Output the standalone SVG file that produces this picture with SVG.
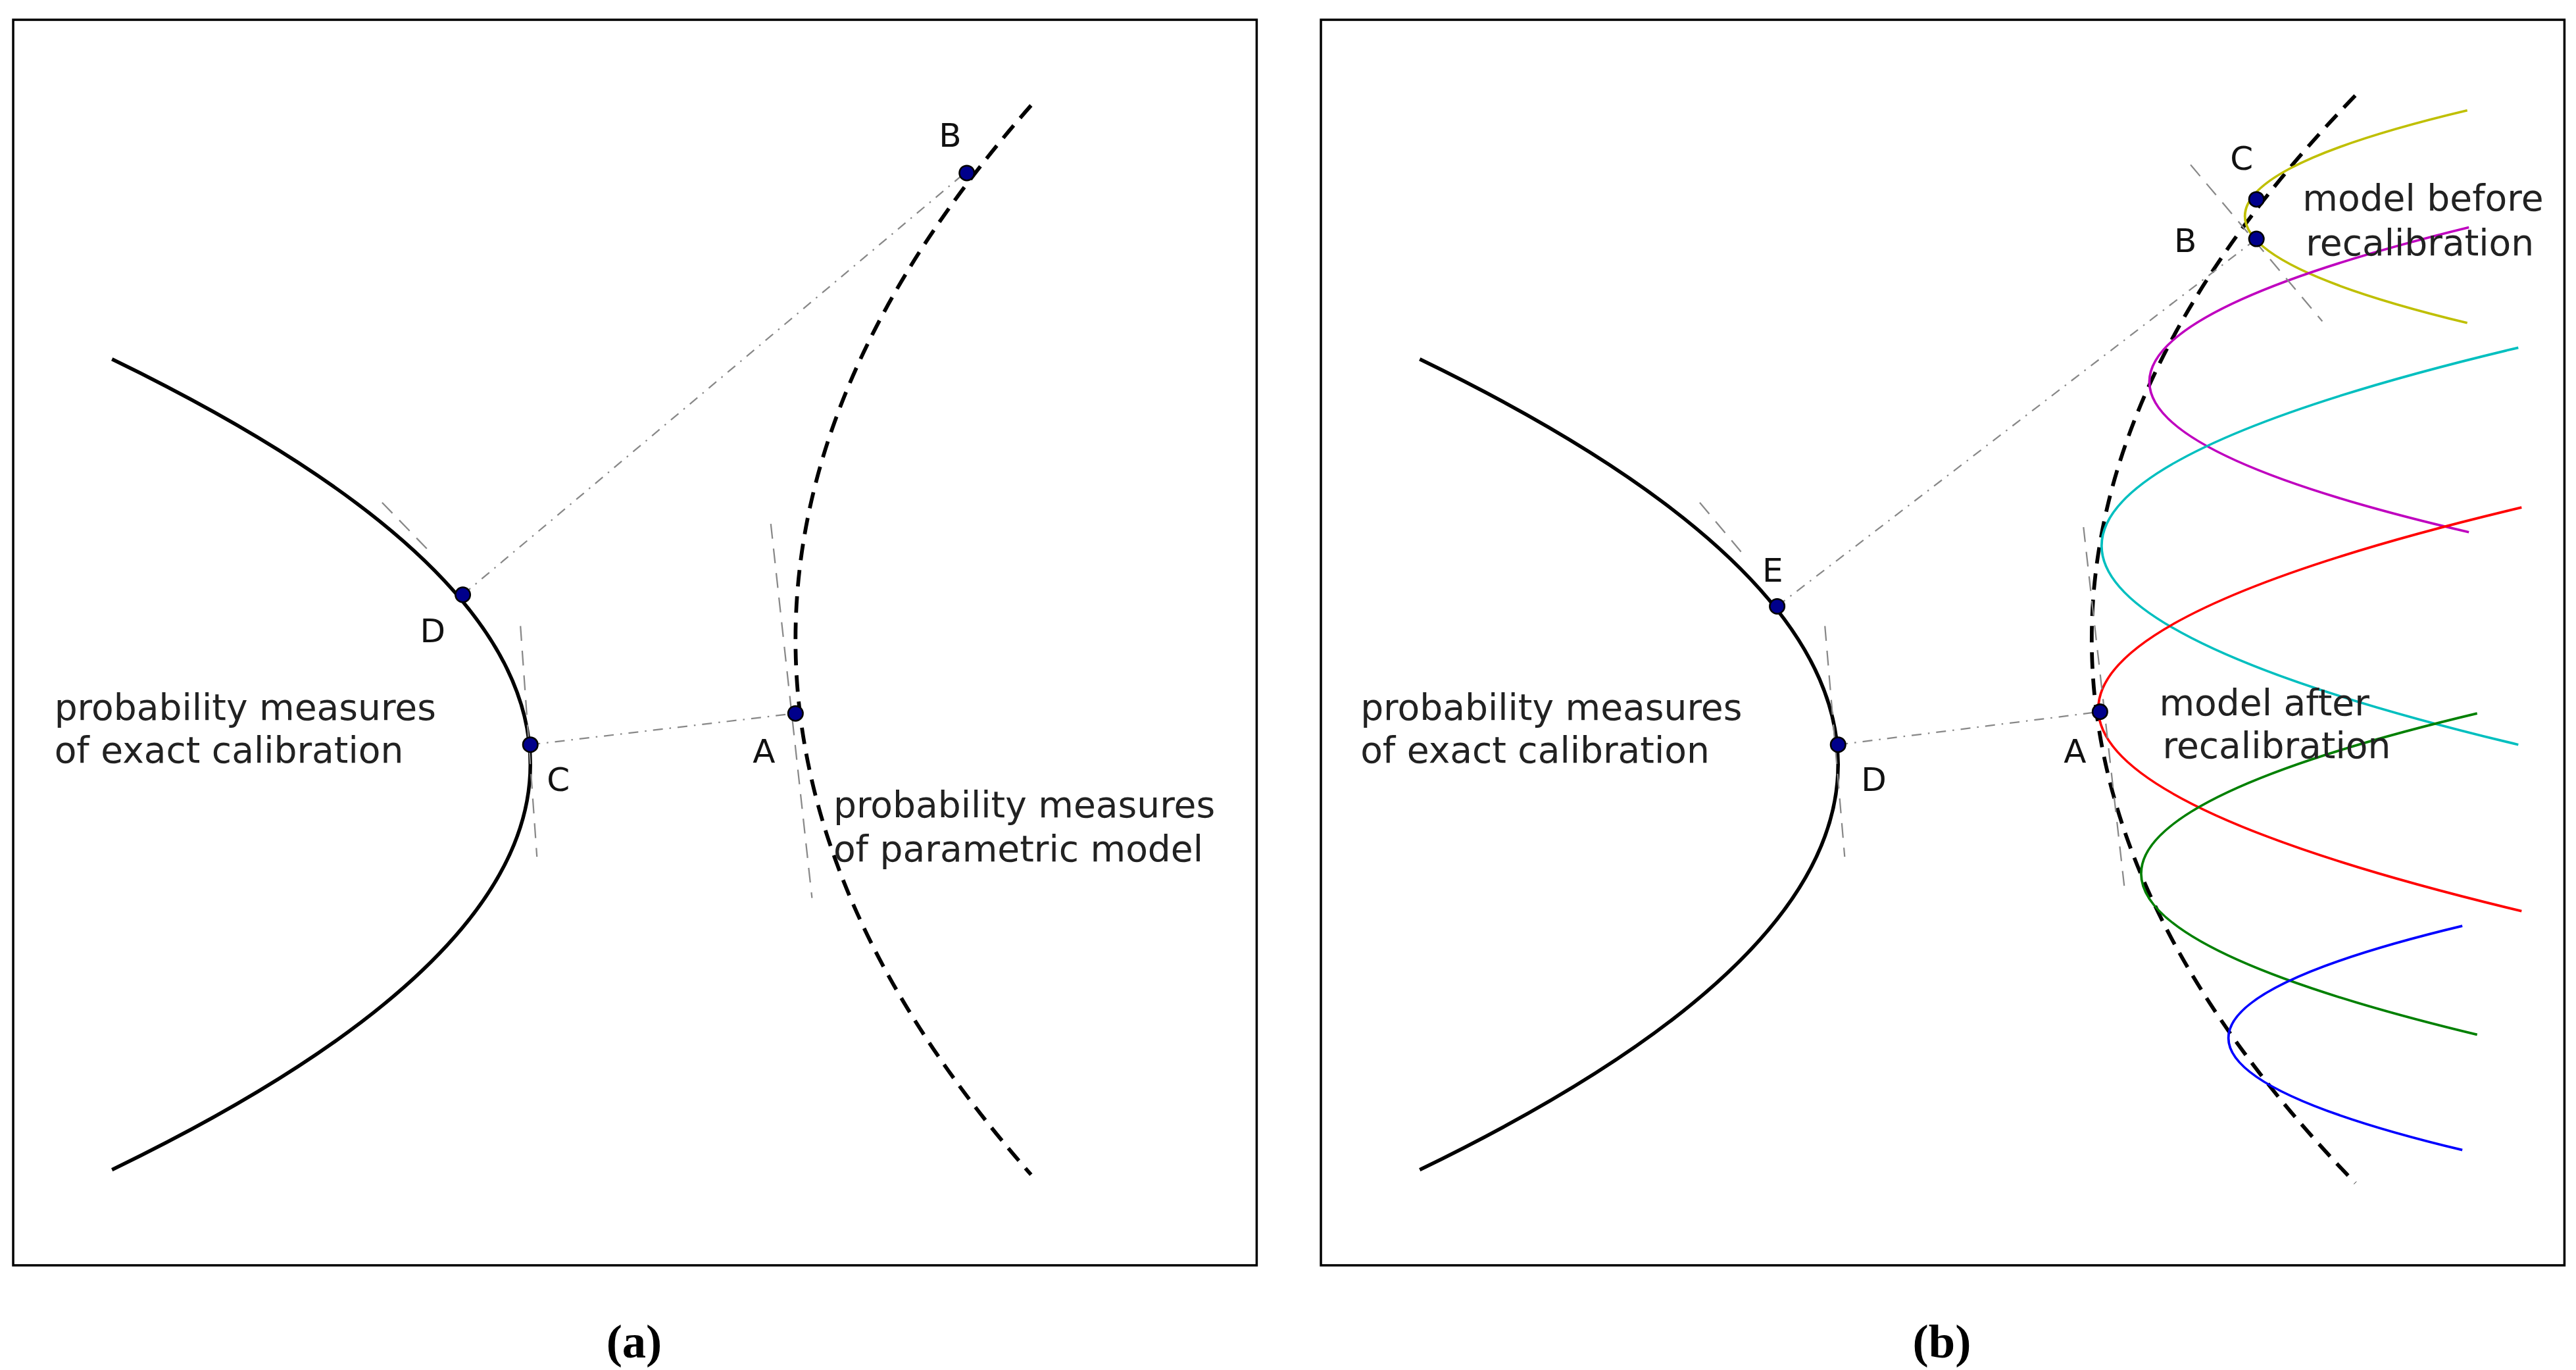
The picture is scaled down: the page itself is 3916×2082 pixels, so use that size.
<svg xmlns="http://www.w3.org/2000/svg" width="3916" height="2082" viewBox="0 0 3916 2082">
<style>
.frame{fill:none;stroke:#000;stroke-width:1.4}
.solid{fill:none;stroke:#000;stroke-width:2.2}
.dash{fill:none;stroke:#000;stroke-width:2.3;stroke-dasharray:10,6}
.tan{fill:none;stroke:#888;stroke-width:0.9;stroke-dasharray:9,6}
.dd{fill:none;stroke:#888;stroke-width:0.9;stroke-dasharray:6,4,1,4}
.pt{fill:#00008b;stroke:#000;stroke-width:1}
.lbl{font-family:"DejaVu Sans",sans-serif;font-size:20px;fill:#111}
.txt{font-family:"DejaVu Sans",sans-serif;font-size:22px;fill:#222}
.cap{font-family:"Liberation Serif",serif;font-size:29px;font-weight:bold;fill:#000}
.c{fill:none;stroke-width:1.5}
</style>
<rect width="3916" height="2082" fill="#fff"/>
<g transform="scale(2.5038)">
<g id="panel-a">
<rect class="frame" x="8" y="12" width="755" height="756"/>
<g id="a-exact"><path class="solid" d="M68,218 Q576,464 68,710"/>
<text class="txt" x="33" y="437">probability measures</text><text class="txt" x="33" y="463">of exact calibration</text></g>
<g id="a-model"><path class="dash" d="M626,64 Q340,388 626,713"/>
<text class="txt" x="506" y="496">probability measures</text><text class="txt" x="506" y="523">of parametric model</text></g>
<g id="a-connectors">
<line class="tan" x1="232" y1="305" x2="262" y2="336"/>
<line class="tan" x1="316" y1="380" x2="326" y2="520"/>
<line class="tan" x1="468" y1="318" x2="493" y2="545"/>
<line class="dd" x1="281" y1="361" x2="587" y2="104"/>
<line class="dd" x1="322" y1="452" x2="483" y2="433"/>
</g>
<g id="a-B"><circle class="pt" cx="587" cy="105" r="4.5"/><text class="lbl" x="570" y="89">B</text></g>
<g id="a-D"><circle class="pt" cx="281" cy="361" r="4.5"/><text class="lbl" x="255" y="390">D</text></g>
<g id="a-C"><circle class="pt" cx="322" cy="452" r="4.5"/><text class="lbl" x="332" y="480">C</text></g>
<g id="a-A"><circle class="pt" cx="483" cy="433" r="4.5"/><text class="lbl" x="457" y="463">A</text></g>
<text class="cap" x="385" y="824" text-anchor="middle">(a)</text>
</g>
<g id="panel-b">
<rect class="frame" x="802" y="12" width="755" height="756"/>
<g id="b-exact"><path class="solid" d="M862,218 Q1370,464 862,710"/>
<text class="txt" x="826" y="437">probability measures</text><text class="txt" x="826" y="463">of exact calibration</text></g>
<g id="b-model"><path class="dash" d="M1430,58 Q1110,388 1430,718"/></g>
<g id="b-family">
<path class="c" stroke="#bfbf00" d="M1498,67 Q1228,131 1498,196"/>
<path class="c" stroke="#bf00bf" d="M1499,138 Q1111,233 1499,323"/>
<path class="c" stroke="#00bfbf" d="M1529,211 Q1023,331 1529,452"/>
<path class="c" stroke="#ff0000" d="M1531,308 Q1017,430 1531,553"/>
<path class="c" stroke="#008000" d="M1504,433 Q1096,530 1504,628"/>
<path class="c" stroke="#0000ff" d="M1495,562 Q1211,630 1495,698"/>
</g>
<g id="b-connectors">
<line class="tan" x1="1032" y1="305" x2="1058" y2="336"/>
<line class="tan" x1="1108" y1="380" x2="1120" y2="520"/>
<line class="tan" x1="1265" y1="320" x2="1290" y2="540"/>
<line class="tan" x1="1330" y1="100" x2="1410" y2="195"/>
<line class="dd" x1="1079" y1="368" x2="1370" y2="145"/>
<line class="dd" x1="1116" y1="452" x2="1275" y2="432"/>
</g>
<text class="txt" x="1398" y="128">model before</text><text class="txt" x="1400" y="155">recalibration</text>
<text class="txt" x="1311" y="434">model after</text><text class="txt" x="1313" y="460">recalibration</text>
<g id="b-C"><circle class="pt" cx="1370" cy="121" r="4.5"/><text class="lbl" x="1354" y="103">C</text></g>
<g id="b-B"><circle class="pt" cx="1370" cy="145" r="4.5"/><text class="lbl" x="1320" y="153">B</text></g>
<g id="b-E"><circle class="pt" cx="1079" cy="368" r="4.5"/><text class="lbl" x="1070" y="353">E</text></g>
<g id="b-D"><circle class="pt" cx="1116" cy="452" r="4.5"/><text class="lbl" x="1130" y="480">D</text></g>
<g id="b-A"><circle class="pt" cx="1275" cy="432" r="4.5"/><text class="lbl" x="1253" y="463">A</text></g>
<text class="cap" x="1179" y="824" text-anchor="middle">(b)</text>
</g>
</g>
</svg>
